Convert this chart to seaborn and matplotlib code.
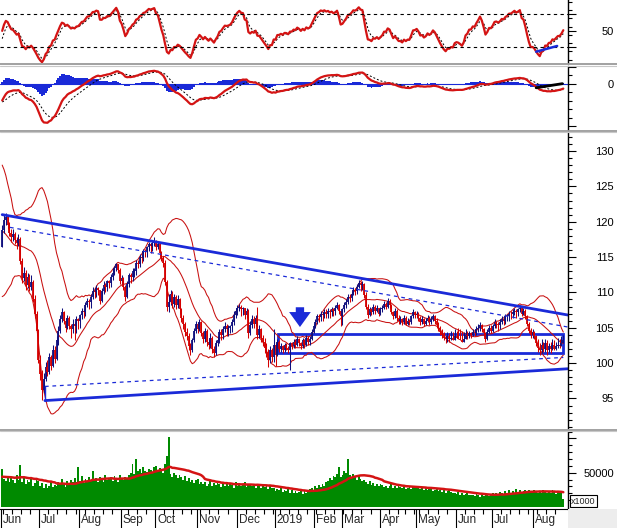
import numpy as np
import pandas as pd
import matplotlib
matplotlib.use("Agg")
import matplotlib.pyplot as plt
import matplotlib.transforms as mtransforms
from matplotlib.lines import Line2D
from matplotlib.patches import Rectangle
import seaborn as sns

# ---------------- data ----------------
holidays = ["2018-09-03", "2019-01-01", "2019-02-04", "2019-02-05", "2019-02-06",
            "2019-02-07", "2019-02-08", "2019-04-15", "2019-04-30", "2019-05-01"]
start_date, end_date = "2018-06-01", "2019-08-23"

# closes / volumes before the first visible day (needed for the indicators)
warmup_closes = [124.5, 125.5, 125.0, 126.0, 125.2, 124.8, 125.6, 126.2, 125.4, 124.6, 125.8, 126.4,
                 125.6, 125.0, 126.0, 125.4, 124.8, 125.8, 126.2, 125.0, 124.2, 125.0, 122.0, 118.5,
                 116.0, 114.8, 115.6, 114.2, 113.8, 115.0, 114.0, 113.6, 114.8, 115.6, 116.4]
warmup_volumes = [44, 47, 41, 45, 43, 48, 52, 45, 50, 44, 47, 55, 49, 42, 46, 51, 44, 40,
                  47, 43, 45, 49, 41, 38, 44, 46, 42, 39, 45, 48, 44, 41, 46, 43, 40]

closes = [
    118.8, 120.2, 120.6, 119.6, 118.4, 117.8, 118.2, 117.4, 117.0, 117.6,
    114.5, 112.0, 112.8, 111.0, 112.2, 110.8, 111.5, 109.0, 107.0, 104.5,
    100.5, 98.5, 96.2, 97.8, 99.5, 98.8, 100.8, 99.6, 101.8, 100.6,
    103.2, 104.6, 106.2, 107.2, 106.0, 105.0, 106.4, 105.2, 104.8, 105.6,
    105.2, 106.2, 106.0, 106.8, 107.4, 107.2, 108.2, 108.8, 108.6, 109.4,
    110.2, 110.0, 110.6, 110.4, 108.8, 110.2, 111.0, 110.8, 111.6, 111.4,
    112.2, 112.8, 113.4, 114.0, 113.2, 111.6, 112.0, 110.8, 109.4, 111.2,
    112.4, 112.2, 113.0, 113.0, 114.2, 114.0, 115.0, 114.9, 115.8, 115.7,
    116.4, 116.8, 116.6, 117.0, 117.2, 116.4, 116.8, 115.6, 114.8, 114.2,
    111.5, 108.0, 108.6, 109.8, 108.4, 109.4, 108.2, 109.0, 107.6, 106.4,
    105.6, 104.4, 103.8, 102.4, 101.8, 103.2, 104.6, 105.6, 104.8, 105.8,
    104.2, 103.4, 104.6, 103.0, 102.6, 103.6, 102.0, 101.4, 102.8, 103.2,
    104.4, 104.0, 104.8, 105.2, 104.8, 105.0, 105.2, 105.8, 106.8, 107.4,
    107.8, 108.0, 107.6, 107.8, 106.8, 107.4, 104.2, 105.4, 106.2, 105.6,
    106.4, 104.0, 104.8, 103.6, 103.0, 102.2, 101.6, 100.4, 101.8, 100.8,
    102.6, 101.2, 103.0, 102.0, 102.4, 101.8, 102.6, 102.2, 101.8, 102.8,
    102.4, 103.0, 102.6, 103.4, 102.8, 102.4, 103.2, 102.6, 103.6, 103.0,
    103.4, 104.4, 105.2, 105.8, 106.6, 106.5, 107.0, 106.8, 107.2, 107.0,
    107.4, 107.2, 107.6, 107.4, 107.8, 108.2, 107.4, 106.6, 107.6, 108.2,
    108.6, 109.4, 109.2, 109.8, 110.4, 110.2, 110.8, 111.4, 111.0, 111.2,
    109.6, 108.0, 106.8, 107.6, 107.2, 108.0, 107.4, 107.8, 107.0, 107.6,
    107.8, 108.4, 108.0, 108.8, 108.2, 107.2, 106.6, 107.4, 106.4, 106.0,
    106.2, 105.8, 106.4, 105.6, 106.0, 105.8, 106.6, 107.2, 106.8, 107.0,
    106.4, 105.8, 106.2, 105.6, 106.0, 106.4, 105.8, 106.2, 106.6, 106.0,
    105.4, 105.0, 104.4, 104.0, 103.6, 103.4, 103.8, 103.4, 103.6, 103.3,
    103.8, 103.6, 103.4, 103.2, 103.0, 103.4, 104.0, 103.8, 104.2, 104.0,
    104.4, 104.2, 104.8, 105.0, 105.4, 104.8, 104.2, 103.4, 104.4, 105.0,
    104.6, 105.2, 105.8, 105.6, 105.4, 105.8, 106.2, 106.0, 106.6, 106.6,
    107.0, 106.9, 107.2, 107.4, 107.2, 107.6, 107.8, 107.0, 107.4, 106.6,
    105.6, 104.6, 104.0, 104.4, 103.8, 102.8, 102.2, 101.8, 102.6, 102.0,
    102.8, 101.8, 102.4, 102.0, 102.6, 102.0, 102.4, 102.6, 102.4, 102.8, 103.2,
]
highs = [
    119.5, 121.0, 121.2, 120.9, 120.0, 118.9, 119.0, 118.6, 117.9, 118.3,
    117.8, 114.8, 113.6, 113.2, 112.8, 112.6, 112.4, 111.8, 109.6, 107.4,
    104.8, 101.2, 99.0, 98.6, 100.2, 100.4, 101.4, 101.2, 102.6, 102.4,
    103.8, 105.2, 106.8, 107.8, 107.4, 106.4, 106.8, 106.6, 105.6, 106.2,
    105.8, 106.6, 106.4, 107.0, 107.8, 107.6, 108.6, 109.2, 109.0, 109.8,
    110.8, 110.6, 111.0, 110.8, 110.2, 110.6, 111.6, 111.4, 111.8, 111.8,
    112.6, 113.4, 113.8, 114.2, 114.0, 113.4, 112.4, 112.2, 111.0, 111.6,
    112.8, 112.8, 113.4, 113.4, 114.6, 114.6, 115.4, 115.4, 116.2, 116.2,
    116.6, 117.2, 117.0, 117.4, 117.8, 117.4, 117.2, 117.0, 115.8, 115.2,
    114.6, 111.8, 109.8, 110.4, 110.2, 109.8, 109.6, 109.6, 109.2, 107.8,
    106.8, 105.8, 105.0, 104.2, 102.8, 103.6, 105.0, 106.0, 105.8, 106.2,
    106.0, 104.6, 105.0, 104.8, 103.4, 104.2, 103.8, 102.4, 103.2, 103.8,
    104.8, 104.8, 105.2, 105.8, 105.6, 105.4, 105.4, 106.2, 107.4, 107.8,
    108.2, 108.4, 108.2, 108.0, 107.8, 107.8, 107.6, 106.0, 106.8, 106.6,
    106.8, 108.0, 105.4, 105.0, 104.0, 103.6, 102.8, 102.0, 102.4, 102.2,
    104.8, 102.8, 103.4, 103.2, 102.8, 102.6, 102.9, 102.8, 102.4, 103.0,
    103.0, 103.4, 103.4, 103.8, 103.6, 103.0, 103.6, 103.4, 104.0, 103.8,
    103.8, 104.8, 105.6, 106.2, 107.0, 107.0, 107.4, 107.2, 107.6, 107.6,
    107.8, 107.6, 108.0, 107.8, 108.2, 108.6, 108.4, 107.4, 107.8, 108.6,
    109.0, 109.8, 109.8, 110.2, 110.8, 110.6, 111.2, 111.8, 111.6, 111.6,
    111.4, 110.0, 108.4, 108.0, 107.8, 108.4, 108.2, 108.2, 107.8, 107.9,
    108.2, 108.8, 108.6, 109.2, 109.0, 108.4, 107.4, 107.8, 107.6, 106.8,
    106.6, 106.4, 106.8, 106.6, 106.4, 106.2, 106.8, 107.6, 107.4, 107.4,
    107.2, 106.6, 106.6, 106.4, 106.4, 106.8, 106.6, 106.6, 107.0, 106.8,
    106.4, 105.8, 105.2, 104.8, 104.4, 104.0, 104.4, 104.2, 104.6, 104.4,
    104.8, 104.6, 105.0, 104.8, 104.6, 104.4, 104.8, 104.6, 104.6, 104.4,
    104.8, 104.8, 105.2, 105.6, 105.8, 105.6, 105.0, 104.4, 104.8, 105.4,
    105.4, 105.6, 106.2, 106.0, 105.8, 106.2, 106.6, 106.4, 107.0, 107.0,
    107.4, 107.4, 107.6, 107.8, 107.6, 107.8, 108.2, 108.0, 107.8, 107.6,
    106.8, 105.8, 105.0, 104.8, 104.6, 104.0, 103.4, 102.8, 103.4, 103.0,
    103.4, 103.2, 102.8, 103.0, 103.4, 103.2, 103.0, 103.6, 103.4, 103.8, 104.0,
]
lows = [
    117.0, 118.4, 119.6, 119.0, 118.0, 117.2, 117.3, 116.8, 116.2, 116.6,
    114.0, 111.4, 111.6, 110.4, 110.6, 110.2, 110.4, 108.6, 106.4, 104.0,
    100.0, 97.6, 94.8, 95.8, 97.4, 98.2, 98.4, 99.0, 99.4, 100.0,
    100.4, 102.6, 104.2, 105.8, 105.6, 104.4, 104.8, 104.8, 103.6, 104.2,
    103.2, 104.2, 104.8, 105.0, 106.2, 106.4, 106.6, 108.0, 107.6, 107.8,
    109.0, 109.2, 109.4, 109.6, 108.4, 108.6, 109.8, 110.0, 110.2, 110.6,
    110.8, 111.8, 112.4, 113.0, 112.8, 111.2, 111.2, 110.4, 108.8, 109.2,
    110.8, 111.4, 111.6, 112.2, 112.4, 113.4, 113.6, 114.2, 114.4, 115.0,
    115.0, 115.8, 115.6, 115.8, 116.6, 116.0, 116.2, 115.2, 114.4, 113.6,
    111.0, 107.4, 107.2, 108.2, 107.8, 108.0, 107.6, 107.8, 107.0, 105.8,
    104.8, 103.8, 103.2, 101.8, 101.2, 101.6, 103.0, 104.2, 104.2, 104.6,
    103.8, 102.8, 103.0, 102.4, 102.0, 102.2, 101.4, 100.8, 101.2, 102.4,
    102.8, 103.2, 103.4, 104.4, 103.8, 103.8, 104.2, 104.4, 105.4, 106.4,
    106.8, 107.4, 106.6, 106.8, 106.2, 106.4, 103.6, 104.0, 105.0, 105.0,
    105.2, 103.4, 103.6, 103.0, 102.4, 101.4, 100.8, 99.4, 100.0, 100.2,
    100.2, 99.6, 101.0, 101.6, 101.6, 101.4, 101.6, 101.8, 101.4, 99.0,
    102.0, 102.2, 102.2, 102.4, 102.4, 102.0, 102.2, 102.2, 102.4, 102.6,
    102.6, 103.2, 104.2, 105.0, 105.6, 105.8, 106.0, 106.0, 106.4, 106.4,
    106.4, 106.4, 106.6, 106.6, 106.8, 107.6, 107.0, 105.2, 105.4, 107.2,
    107.8, 108.4, 108.6, 108.8, 109.6, 109.6, 109.8, 110.6, 110.2, 110.4,
    109.2, 107.6, 106.4, 106.6, 106.8, 107.0, 107.0, 107.2, 106.6, 106.8,
    107.2, 107.6, 107.6, 107.8, 107.8, 107.0, 106.2, 106.4, 106.0, 105.6,
    105.6, 105.4, 105.6, 105.4, 105.4, 105.4, 105.6, 106.4, 106.4, 106.4,
    106.0, 105.4, 105.6, 105.2, 105.4, 105.8, 105.4, 105.6, 106.0, 105.6,
    105.0, 104.6, 104.0, 103.6, 103.2, 102.8, 103.0, 103.0, 103.2, 103.4,
    103.4, 103.6, 103.8, 103.8, 103.0, 103.2, 103.8, 103.4, 103.6, 103.6,
    103.8, 103.8, 104.0, 104.4, 104.6, 104.4, 103.8, 103.0, 103.2, 104.2,
    104.2, 104.4, 105.0, 105.0, 104.6, 104.8, 105.6, 105.4, 105.6, 106.0,
    106.0, 106.2, 106.4, 106.8, 106.4, 106.6, 107.2, 106.6, 106.8, 106.2,
    105.2, 104.2, 103.6, 103.6, 103.4, 102.4, 101.6, 101.2, 101.4, 101.6,
    101.6, 101.2, 101.6, 101.4, 101.8, 101.8, 101.8, 102.2, 102.2, 102.4, 102.8,
]
# volume, in thousands of the chart's "x1000" unit
volumes_k = [
    55.7, 41, 38, 45, 36, 44, 40, 35, 47, 39,
    60.5, 37, 42, 33, 39, 36, 44, 31, 35, 40,
    38, 30, 35, 28, 33, 27, 31, 36, 29, 32,
    30, 37, 33, 41, 35, 29, 38, 34, 40, 36,
    42, 36, 58, 38, 45, 35, 41, 37, 44, 39,
    53, 38, 42, 36, 44, 40, 37, 46, 39, 41,
    43, 38, 45, 40, 36, 47, 42, 39, 44, 41,
    46, 50, 63, 48, 70, 52, 55, 49, 58, 53,
    51, 56, 54, 49, 58, 60, 52, 57, 55, 50,
    62, 75, 102.6, 48, 44, 50, 46, 42, 47, 43,
    40, 45, 38, 42, 36, 40, 35, 39, 41, 34,
    37, 33, 36, 31, 34, 38, 30, 35, 32, 36,
    33, 29, 35, 31, 37, 30, 34, 32, 28, 36,
    31, 35, 30, 33, 37, 29, 32, 34, 30, 33,
    28, 32, 30, 27, 33, 29, 31, 26, 30, 28,
    27, 23, 26, 24, 28, 22, 25, 23, 27, 21,
    24, 21, 23, 20, 22, 25, 19, 23, 21, 22,
    26, 28, 24, 30, 27, 32, 29, 34, 31, 36,
    38, 42, 40, 45, 43, 48, 58, 44, 47, 52,
    50, 70, 46, 42, 48, 44, 40, 45, 41, 38,
    40, 36, 34, 38, 32, 35, 31, 33, 30, 34,
    32, 29, 31, 28, 30, 33, 27, 30, 28, 31,
    29, 27, 30, 26, 28, 31, 26, 29, 27, 28,
    30, 26, 28, 25, 27, 24, 26, 28, 23, 25,
    26, 23, 25, 22, 24, 21, 23, 25, 22, 20,
    21, 19, 22, 18, 20, 17, 19, 21, 18, 17,
    18, 16, 19, 17, 15, 18, 16, 17, 19, 16,
    17, 20, 18, 21, 19, 22, 20, 18, 23, 21,
    24, 21, 23, 20, 26, 22, 25, 21, 23, 24,
    22, 25, 23, 21, 24, 22, 20, 23, 21, 24,
    22, 20, 23, 21, 24, 22, 19, 23, 21, 20, 12,
]

# hand-drawn annotations (bar index, price / indicator value)
upper_trend_x, upper_trend_y = [0.0, 312.6], [121.0, 106.8]
upper_dash_x, upper_dash_y = [4.3, 312.6], [119.2, 105.1]
lower_trend_x, lower_trend_y = [23.6, 312.6], [94.7, 99.2]
lower_dash_x, lower_dash_y = [23.6, 310.0], [96.7, 100.8]
box_x, box_y = [152.4, 310.0], [101.4, 104.1]
arrow_x, arrow_y = 164.5, [107.9, 105.1]
rsi_line_x, rsi_line_y = [295.0, 306.6], [24.7, 31.6]
macd_line_x, macd_line_y = [295.0, 309.5], [-0.55, 0.0]
month_names = ["Jun", "Jul", "Aug", "Sep", "Oct", "Nov", "Dec", "2019",
               "Feb", "Mar", "Apr", "May", "Jun", "Jul", "Aug"]

# ---------------- preparation ----------------
dates = pd.bdate_range(start_date, end_date)
dates = dates[~dates.isin(pd.to_datetime(holidays))]
n = min(len(dates), len(closes))
dates = dates[:n]
closes_a = np.array(closes[:n]); highs_a = np.array(highs[:n]); lows_a = np.array(lows[:n])
opens_a = np.r_[warmup_closes[-1], closes_a[:-1]]
nw = len(warmup_closes)
full_close = pd.Series(np.r_[warmup_closes, closes_a])
full_vol = pd.Series(np.r_[warmup_volumes, volumes_k[:n]]) * 1000.0
xi = np.arange(-nw, n)

RSI_N = 8
diff = full_close.diff()
up = diff.clip(lower=0).ewm(alpha=1 / RSI_N, adjust=False).mean()
dn = (-diff.clip(upper=0)).ewm(alpha=1 / RSI_N, adjust=False).mean()
rsi = (100 - 100 / (1 + up / dn)).ewm(span=3, adjust=False).mean()
rsi_sig = rsi.ewm(span=4, adjust=False).mean()

ema12 = full_close.ewm(span=12, adjust=False).mean()
ema26 = full_close.ewm(span=26, adjust=False).mean()
macd = ema12 - ema26
signal = macd.ewm(span=9, adjust=False).mean()
hist = macd - signal

mid = full_close.rolling(20).mean()
sd = full_close.rolling(20).std(ddof=0)
bb_up, bb_lo = mid + 2 * sd, mid - 2 * sd
vol_ma = full_vol.rolling(20, min_periods=1).mean()

df = pd.DataFrame({"x": xi, "rsi": rsi, "rsi_sig": rsi_sig, "macd": macd, "signal": signal,
                   "histo": hist, "mid": mid, "bb_up": bb_up, "bb_lo": bb_lo,
                   "volume": full_vol, "vol_ma": vol_ma})
vis = df[df["x"] >= 0].reset_index(drop=True)

# ---------------- figure ----------------
sns.set_theme(style="white")
plt.rcParams["font.family"] = ["Liberation Sans", "DejaVu Sans"]
W, H = 617, 528
fig = plt.figure(figsize=(W / 100, H / 100), dpi=100)
fig.patch.set_facecolor("white")

def add_ax(top, bottom):
    return fig.add_axes([0, 1 - bottom / H, 568 / W, (bottom - top) / H])

ax_rsi = add_ax(0, 62.5)
ax_macd = add_ax(66, 129.5)
ax_p = add_ax(132.5, 427.5)
ax_v = add_ax(431.5, 509)

RED = "#d41414"
BLUE = "#1a2ad8"
NAVY = "#10107e"
pt = 72 / 100.0  # points per pixel
x_left = -2.2 / 1.81
x_right = x_left + 568 / 1.81

for ax in (ax_rsi, ax_macd, ax_p, ax_v):
    ax.set_facecolor("white")
    for s in ("top", "left", "bottom"):
        ax.spines[s].set_visible(False)
    ax.spines["right"].set_color("black")
    ax.spines["right"].set_linewidth(1.0)
    ax.yaxis.tick_right()
    ax.tick_params(axis="y", which="major", direction="out", length=8 * pt, width=0.8,
                   color="black", labelsize=8, labelcolor="black", pad=38 * pt)
    ax.tick_params(axis="y", which="minor", direction="out", length=4 * pt, width=0.8, color="black")
    ax.grid(False)

# RSI panel
sns.lineplot(data=vis, x="x", y="rsi_sig", ax=ax_rsi, color="black", lw=0.7, linestyle=(0, (2, 2)), estimator=None)
sns.lineplot(data=vis, x="x", y="rsi", ax=ax_rsi, color=RED, lw=1.6, estimator=None)
for lvl in (70, 30):
    ax_rsi.axhline(lvl, color="black", lw=0.8, linestyle=(0, (3, 3)))
sns.lineplot(x=rsi_line_x, y=rsi_line_y, ax=ax_rsi, color=BLUE, lw=1.8)
ax_rsi.set_ylim(11.6, 87.3)
ax_rsi.set_yticks([30, 50, 70])
ax_rsi.set_yticklabels(["", "50", ""])
ax_rsi.set_yticks(np.arange(15, 90, 10), minor=True)

# MACD panel  (about 7.4 px per unit)
macd_lo, macd_hi = -6.1, 2.35
ax_macd.bar(vis["x"], vis["histo"], width=1.0, color=BLUE, linewidth=0)
ax_macd.axhline(0, color=BLUE, lw=0.8)
sns.lineplot(data=vis, x="x", y="signal", ax=ax_macd, color="black", lw=0.7, linestyle=(0, (2, 2)), estimator=None)
sns.lineplot(data=vis, x="x", y="macd", ax=ax_macd, color=RED, lw=1.6, estimator=None)
sns.lineplot(x=macd_line_x, y=macd_line_y, ax=ax_macd, color="black", lw=2.0)
ax_macd.set_ylim(macd_lo, macd_hi)
mstep = 1.13
ax_macd.set_yticks([2 * mstep, 0, -5 * mstep])
ax_macd.set_yticklabels(["", "0", ""])
ax_macd.set_yticks(np.arange(-5, 3) * mstep, minor=True)

# Price panel
for col in ("bb_up", "mid", "bb_lo"):
    sns.lineplot(data=vis, x="x", y=col, ax=ax_p, color="#c81010", lw=0.75, estimator=None)
px = np.arange(n)
colors = np.where(closes_a >= opens_a, NAVY, "#d40000")
body_lo = np.minimum(opens_a, closes_a)
body_hi = np.maximum(opens_a, closes_a)
ax_p.vlines(px, np.minimum(lows_a, body_lo), np.maximum(highs_a, body_hi), colors=colors, lw=0.75)
ax_p.vlines(px, body_lo, body_hi, colors=colors, lw=1.3)
sns.lineplot(x=upper_trend_x, y=upper_trend_y, ax=ax_p, color=BLUE, lw=2.0)
sns.lineplot(x=lower_trend_x, y=lower_trend_y, ax=ax_p, color=BLUE, lw=2.0)
sns.lineplot(x=upper_dash_x, y=upper_dash_y, ax=ax_p, color=BLUE, lw=0.9, linestyle=(0, (3, 3)))
sns.lineplot(x=lower_dash_x, y=lower_dash_y, ax=ax_p, color=BLUE, lw=0.9, linestyle=(0, (3, 3)))
ax_p.plot([lower_trend_x[0], lower_trend_x[0]], [lower_trend_y[0], lower_dash_y[0]], color=BLUE, lw=1.0)
ax_p.add_patch(Rectangle((box_x[0], box_y[0]), box_x[1] - box_x[0], box_y[1] - box_y[0],
                         fill=False, edgecolor=BLUE, lw=2.0))
ax_p.annotate("", xy=(arrow_x, arrow_y[1]), xytext=(arrow_x, arrow_y[0]),
              arrowprops=dict(arrowstyle="simple,head_width=1.3,head_length=0.9,tail_width=0.5",
                              color=BLUE, lw=0, shrinkA=0, shrinkB=0))
ax_p.set_ylim(90.89, 132.62)
ax_p.set_yticks(np.arange(95, 131, 5))
ax_p.set_yticklabels([str(v) for v in range(95, 131, 5)])
ax_p.set_yticks(np.arange(91, 133, 1), minor=True)

# Volume panel
ax_v.bar(vis["x"], vis["volume"], width=1.0, color="#008a00", linewidth=0)
sns.lineplot(data=vis, x="x", y="vol_ma", ax=ax_v, color=RED, lw=1.8, estimator=None)
ax_v.set_ylim(-3000, 109700)
ax_v.set_yticks([50000, 100000])
ax_v.set_yticklabels(["50000", ""])
ax_v.set_yticks(np.arange(10000, 110001, 10000), minor=True)
ax_v.spines["bottom"].set_visible(True)
ax_v.spines["bottom"].set_color("black")
ax_v.spines["bottom"].set_linewidth(0.8)

for ax in (ax_rsi, ax_macd, ax_p, ax_v):
    ax.set_xlim(x_left, x_right)
    ax.set_xlabel(""); ax.set_ylabel("")

# month / week ticks
dser = pd.Series(dates)
mon = dser.dt.month.values
wk = dser.dt.isocalendar().week.values.astype(int)
month_first = np.flatnonzero(np.r_[True, mon[1:] != mon[:-1]])
week_first = np.flatnonzero(np.r_[True, wk[1:] != wk[:-1]])
week_first = np.setdiff1d(week_first, month_first)
ax_v.set_xticks(month_first - 0.5)
ax_v.set_xticklabels(month_names[:len(month_first)])
ax_v.set_xticks(week_first - 0.5, minor=True)
ax_v.tick_params(axis="x", which="major", direction="out", length=19 * pt, width=0.8,
                 color="black", labelsize=8.5, pad=-10, bottom=True, labelbottom=True)
ax_v.tick_params(axis="x", which="minor", direction="out", length=5 * pt, width=0.8,
                 color="black", bottom=True)
offset = mtransforms.ScaledTranslation(2 / 100, 0, fig.dpi_scale_trans)
for lab in ax_v.get_xticklabels():
    lab.set_horizontalalignment("left")
    lab.set_transform(lab.get_transform() + offset)
for ax in (ax_rsi, ax_macd, ax_p):
    ax.set_xticks([])
for ax in (ax_rsi, ax_macd, ax_p, ax_v):
    for lab in ax.get_yticklabels():
        lab.set_horizontalalignment("right")

# separators & decorations
for ysep in (64.2, 130.8, 429.8):
    fig.add_artist(Line2D([0, 1], [1 - ysep / H] * 2, transform=fig.transFigure, color="#9a9a9a", lw=1.3))
    fig.add_artist(Line2D([0, 1], [1 - (ysep + 1.3) / H] * 2, transform=fig.transFigure, color="#c8c8c8", lw=0.8))
fig.add_artist(Rectangle((568 / W, 0), 1 - 568 / W, 19 / H, transform=fig.transFigure,
                         facecolor="#ededed", edgecolor="none"))
fig.text(571 / W, 1 - 501 / H, "x1000", fontsize=6.5, va="center", ha="left",
         bbox=dict(boxstyle="square,pad=0.15", facecolor="white", edgecolor="black", lw=0.8))

fig.savefig("out.png", dpi=100, facecolor="white")
